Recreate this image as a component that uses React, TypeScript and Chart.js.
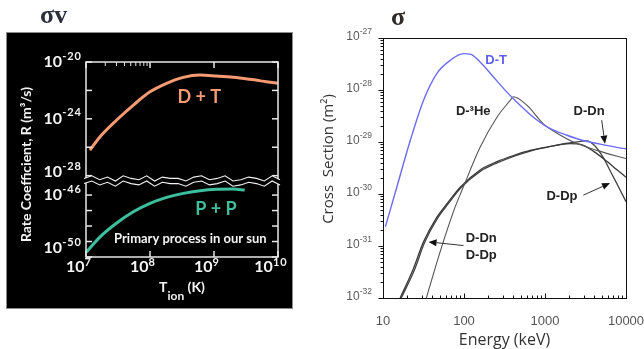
import React, { useEffect, useRef } from 'react';
import { Chart, registerables } from 'chart.js';

Chart.register(...registerables);

// ---------- σv : reaction rate coefficient vs ion temperature ----------
const dtTemperature = [1.15e7, 1.66e7, 3.02e7, 5.5e7, 1.0e8, 1.82e8, 3.31e8, 6.03e8, 1.1e9, 2.0e9, 3.63e9, 6.61e9, 1.0e10];
const dtRate = [6.3e-27, 5.5e-26, 8.3e-25, 9.3e-24, 7.9e-23, 3.16e-22, 8.3e-22, 1.2e-21, 1.02e-21, 8.3e-22, 6.0e-22, 4.1e-22, 3.16e-22];
const ppTemperature = [1.02e7, 1.66e7, 3.02e7, 5.5e7, 1.0e8, 1.82e8, 3.31e8, 6.03e8, 1.1e9, 2.0e9, 3.02e9];
const ppRate = [2.1e-50, 2.0e-49, 1.58e-48, 8.3e-48, 2.9e-47, 7.1e-47, 1.29e-46, 1.9e-46, 2.34e-46, 2.45e-46, 2.1e-46];

const temperatureDecades = [7, 8, 9, 10];
const rateUpperLabels = [-20, -24, -28];
const rateUpperTicks = [-20, -22, -24, -26, -28];
const rateLowerLabels = [-46, -50];
const rateLowerTicks = [-46, -47, -48, -49, -50];

// ---------- σ : cross sections vs deuteron energy ----------
const dtEnergy = [10.7, 14.8, 21.7, 31.6, 46.3, 67.6, 98.6, 119, 158, 231, 339, 447, 719, 1150, 1860, 2950, 4790, 7670, 10000];
const dtSigma = [2.34e-31, 1.35e-30, 1.07e-29, 6.3e-29, 2.09e-28, 3.72e-28, 5.0e-28, 4.9e-28, 3.47e-28, 1.78e-28, 9.1e-29, 5.9e-29, 3.0e-29, 1.82e-29, 1.35e-29, 1.07e-29, 9.1e-30, 7.9e-30, 7.4e-30];
const dhe3Energy = [34.3, 48.5, 61.7, 77.6, 94.2, 158, 255, 372, 407, 597, 955, 1550, 2240, 4370, 10000];
const dhe3Sigma = [1.0e-32, 6.2e-32, 2.0e-31, 5.6e-31, 1.17e-30, 7.9e-30, 3.0e-29, 6.3e-29, 7.4e-29, 5.1e-29, 2.24e-29, 1.35e-29, 1.0e-29, 6.9e-30, 4.8e-30];
const ddnEnergy = [16.3, 23.8, 31.6, 46.3, 63.1, 89.7, 158, 255, 407, 655, 1000, 1550, 2040, 2820, 3980, 5750, 7590, 10000];
const ddnSigma = [1.0e-32, 3.7e-32, 1.2e-31, 3.6e-31, 6.8e-31, 1.35e-30, 2.9e-30, 4.2e-30, 5.5e-30, 6.9e-30, 7.9e-30, 8.9e-30, 9.3e-30, 8.9e-30, 6.6e-30, 4.3e-30, 3.0e-30, 2.1e-30];
const ddpEnergy = [16.8, 24.5, 32.5, 47, 64, 91, 160, 260, 410, 660, 1000, 1550, 2240, 3270, 4170, 5250, 6610, 8130, 10000];
const ddpSigma = [1.0e-32, 3.5e-32, 1.15e-31, 3.4e-31, 6.5e-31, 1.3e-30, 2.75e-30, 4.0e-30, 5.3e-30, 6.7e-30, 7.8e-30, 9.0e-30, 9.8e-30, 1.05e-29, 8.3e-30, 5.0e-30, 2.5e-30, 1.35e-30, 7.1e-31];

const energyTicks = [10, 100, 1000, 10000];
const sigmaDecades = [-27, -28, -29, -30, -31, -32];

// curve labels placed in data coordinates
const sigmaLabels = [
  { text: 'D-T', e: 249, s: 3.7e-28, color: '#5f5ff0' },
  { text: 'D-³He', e: 130, s: 3.9e-29, color: '#222' },
  { text: 'D-Dn', e: 3500, s: 3.9e-29, color: '#222' },
  { text: 'D-Dp', e: 1620, s: 9.1e-31, color: '#222' },
  { text: 'D-Dn', e: 163, s: 1.41e-31, color: '#222' },
  { text: 'D-Dp', e: 163, s: 6.6e-32, color: '#222' },
];
const sigmaArrows = [
  { from: [5010, 2.63e-29], to: [5500, 9.3e-30] },
  { from: [2970, 9.5e-31], to: [6350, 1.62e-30] },
  { from: [98.6, 1.02e-31], to: [36.5, 1.2e-31] },
];

const zip = (xs: number[], ys: number[]) => xs.map((x, i) => ({ x, y: ys[i] }));

type PowerStyle = { base: string; sup: string; rise: number; color: string; align: 'right' | 'center'; supSpacing?: string };

function drawPower(ctx: CanvasRenderingContext2D, exp: string, x: number, y: number, o: PowerStyle) {
  ctx.save();
  ctx.fillStyle = o.color;
  ctx.textBaseline = 'middle';
  ctx.textAlign = 'left';
  ctx.font = o.base;
  (ctx as any).letterSpacing = '0px';
  const bw = ctx.measureText('10').width;
  ctx.font = o.sup;
  (ctx as any).letterSpacing = o.supSpacing ?? '0px';
  const sw = ctx.measureText(exp).width;
  const total = bw + sw;
  const x0 = o.align === 'right' ? x - total : x - total / 2;
  ctx.fillText(exp, x0 + bw, y - o.rise);
  (ctx as any).letterSpacing = '0px';
  ctx.font = o.base;
  ctx.fillText('10', x0, y);
  ctx.restore();
}

function line(ctx: CanvasRenderingContext2D, x1: number, y1: number, x2: number, y2: number) {
  ctx.beginPath();
  ctx.moveTo(x1, y1);
  ctx.lineTo(x2, y2);
  ctx.stroke();
}

const ratePanelPlugin = {
  id: 'ratePanel',
  beforeDraw(chart: any) {
    const { ctx } = chart;
    ctx.save();
    ctx.fillStyle = '#000';
    ctx.fillRect(6, 32, 287, 277);
    ctx.strokeStyle = '#8c8c8c';
    ctx.lineWidth = 1;
    ctx.strokeRect(6.5, 32.5, 286, 276);
    ctx.font = '700 26px "Liberation Serif"';
    ctx.fillStyle = '#2c2f3e';
    ctx.textBaseline = 'alphabetic';
    ctx.fillText('σv', 40, 23);
    ctx.restore();
  },
  afterDraw(chart: any) {
    const { ctx, chartArea: a } = chart;
    const xs = chart.scales.x;
    const yt = chart.scales.yTop;
    const yb = chart.scales.yBot;
    ctx.save();
    ctx.strokeStyle = '#e8e8e8';
    ctx.lineWidth = 1.5;
    ctx.strokeRect(a.left, a.top, a.right - a.left, a.bottom - a.top);

    for (const d of temperatureDecades) {
      const px = xs.getPixelForValue(10 ** d);
      line(ctx, px, a.bottom, px, a.bottom - 6);
      line(ctx, px, a.top, px, a.top + 6);
    }
    ctx.lineWidth = 1;
    for (let k = 2; k <= 9; k++) {
      const px = xs.getPixelForValue(k * 1e7);
      line(ctx, px, a.top, px, a.top + 4);
    }
    ctx.lineWidth = 1.5;
    for (const d of rateUpperTicks) {
      const py = yt.getPixelForValue(10 ** d);
      line(ctx, a.left, py, a.left + 6, py);
      line(ctx, a.right, py, a.right - 6, py);
    }
    for (const d of rateLowerTicks) {
      const py = yb.getPixelForValue(10 ** d);
      line(ctx, a.left, py, a.left + 6, py);
      line(ctx, a.right, py, a.right - 6, py);
    }

    // axis break between the two rate ranges
    const mid = yt.bottom;
    const zig = [0, -2, 1, -1, 2, -2, 0, 1, -2, 2, -1, 0, 0, 2, -1, -2, 1, 0, -2, 2, 1, -1, 0, 2, -2, 1];
    const x0 = a.left - 2;
    const x1 = a.right + 2;
    const n = zig.length - 1;
    const pts = zig.map((o, i) => [x0 + ((x1 - x0) * i) / n, mid + o * 1.3]);
    const gap = 2.6;
    ctx.fillStyle = '#000';
    ctx.beginPath();
    pts.forEach(([x, y], i) => (i ? ctx.lineTo(x, y - gap) : ctx.moveTo(x, y - gap)));
    [...pts].reverse().forEach(([x, y]) => ctx.lineTo(x, y + gap));
    ctx.closePath();
    ctx.fill();
    ctx.strokeStyle = '#f2f2f2';
    ctx.lineWidth = 1.1;
    for (const off of [-gap, gap]) {
      ctx.beginPath();
      pts.forEach(([x, y], i) => (i ? ctx.lineTo(x, y + off) : ctx.moveTo(x, y + off)));
      ctx.stroke();
    }

    // tick labels
    const yStyle: PowerStyle = { base: '700 16px Lato', sup: '700 11px Lato', rise: 6, color: '#f4f4f4', align: 'right', supSpacing: '1px' };
    for (const d of rateUpperLabels) {
      const py = Math.min(yt.getPixelForValue(10 ** d), yt.bottom - 9);
      drawPower(ctx, String(d), a.left - 4, py, yStyle);
    }
    for (const d of rateLowerLabels) {
      const py = Math.min(yb.getPixelForValue(10 ** d), yb.bottom - 9);
      drawPower(ctx, String(d), a.left - 4, py, yStyle);
    }
    const xStyle: PowerStyle = { ...yStyle, align: 'center', rise: 5 };
    for (const d of temperatureDecades) {
      drawPower(ctx, String(d), xs.getPixelForValue(10 ** d) - 7, a.bottom + 10, xStyle);
    }

    // axis titles
    ctx.fillStyle = '#f4f4f4';
    ctx.font = '700 14px Lato';
    ctx.textAlign = 'center';
    ctx.textBaseline = 'middle';
    ctx.save();
    ctx.translate(26, (a.top + a.bottom) / 2 + 5);
    ctx.rotate(-Math.PI / 2);
    ctx.fillText('Rate Coefficient, R (m³/s)', 0, 0);
    ctx.restore();

    ctx.textAlign = 'left';
    ctx.textBaseline = 'alphabetic';
    ctx.font = '700 14px Lato';
    const wT = ctx.measureText('T').width;
    const wK = ctx.measureText(' (K)').width;
    ctx.font = '700 12px Lato';
    const wIon = ctx.measureText('ion').width;
    let tx = (a.left + a.right) / 2 - (wT + wIon + wK) / 2;
    const tb = a.bottom + 35;
    ctx.font = '700 14px Lato';
    ctx.fillText('T', tx, tb);
    tx += wT;
    ctx.font = '700 12px Lato';
    ctx.fillText('ion', tx, tb + 8);
    tx += wIon;
    ctx.font = '700 14px Lato';
    ctx.fillText(' (K)', tx, tb);

    // curve labels
    ctx.textAlign = 'center';
    ctx.textBaseline = 'middle';
    ctx.font = '700 18px Lato';
    ctx.fillStyle = '#f59a72';
    ctx.fillText('D + T', xs.getPixelForValue(5.9e8), yt.getPixelForValue(3.47e-23));
    ctx.fillStyle = '#3dbf9e';
    ctx.fillText('P + P', xs.getPixelForValue(1.07e9), yb.getPixelForValue(1.26e-47));
    ctx.fillStyle = '#f4f4f4';
    ctx.font = '700 13px Lato';
    ctx.fillText('Primary process in our sun', xs.getPixelForValue(4.27e8), yb.getPixelForValue(1.41e-49));
    ctx.restore();
  },
};

const sigmaPanelPlugin = {
  id: 'sigmaPanel',
  beforeDraw(chart: any) {
    const { ctx } = chart;
    ctx.save();
    ctx.font = '700 26px "Liberation Serif"';
    ctx.fillStyle = '#302b27';
    ctx.textBaseline = 'alphabetic';
    ctx.fillText('σ', 91, 25);
    ctx.restore();
  },
  afterDraw(chart: any) {
    const { ctx, chartArea: a } = chart;
    const xs = chart.scales.x;
    const ys = chart.scales.y;
    ctx.save();
    ctx.strokeStyle = '#111';
    ctx.lineWidth = 1;
    ctx.strokeRect(Math.round(a.left) + 0.5, Math.round(a.top) + 0.5, Math.round(a.right - a.left), Math.round(a.bottom - a.top));

    const left = Math.round(a.left) + 0.5;
    const bottom = Math.round(a.bottom) + 0.5;
    for (const d of sigmaDecades) {
      const py = Math.round(ys.getPixelForValue(10 ** d)) + 0.5;
      line(ctx, left - 5, py, left, py);
      if (d > -32) {
        for (let k = 2; k <= 9; k++) {
          const my = Math.round(ys.getPixelForValue(k * 10 ** (d - 1))) + 0.5;
          line(ctx, left - 3, my, left, my);
        }
      }
    }
    for (const e of energyTicks) {
      const px = Math.round(xs.getPixelForValue(e)) + 0.5;
      line(ctx, px, bottom, px, bottom - 5);
      if (e < 10000) {
        for (let k = 2; k <= 9; k++) {
          const mx = Math.round(xs.getPixelForValue(k * e)) + 0.5;
          line(ctx, mx, bottom, mx, bottom - 3);
        }
      }
    }

    // tick labels
    const yStyle: PowerStyle = { base: '12px "Liberation Sans"', sup: '8.5px "Liberation Sans"', rise: 5, color: '#5a5a5a', align: 'right' };
    for (const d of sigmaDecades) {
      drawPower(ctx, String(d), a.left - 11, ys.getPixelForValue(10 ** d) - 1, yStyle);
    }
    ctx.fillStyle = '#555';
    ctx.font = '13px "Liberation Sans"';
    ctx.textAlign = 'center';
    ctx.textBaseline = 'middle';
    for (const e of energyTicks) {
      ctx.fillText(String(e), xs.getPixelForValue(e), a.bottom + 23);
    }

    // axis titles
    ctx.fillStyle = '#333';
    ctx.font = '15px "Open Sans"';
    ctx.save();
    ctx.translate(29, (a.top + a.bottom) / 2 - 9);
    ctx.rotate(-Math.PI / 2);
    ctx.fillText('Cross  Section (m²)', 0, 0);
    ctx.restore();
    ctx.font = '16px "Open Sans"';
    ctx.textBaseline = 'alphabetic';
    ctx.fillText('Energy (keV)', (a.left + a.right) / 2 - 0, a.bottom + 47);

    // curve labels
    ctx.textBaseline = 'middle';
    ctx.font = '700 13px "Liberation Sans"';
    for (const l of sigmaLabels) {
      ctx.fillStyle = l.color;
      ctx.fillText(l.text, xs.getPixelForValue(l.e), ys.getPixelForValue(l.s));
    }

    // arrows
    ctx.strokeStyle = '#333';
    ctx.fillStyle = '#111';
    ctx.lineWidth = 1;
    for (const ar of sigmaArrows) {
      const fx = xs.getPixelForValue(ar.from[0]);
      const fy = ys.getPixelForValue(ar.from[1]);
      const tx = xs.getPixelForValue(ar.to[0]);
      const ty = ys.getPixelForValue(ar.to[1]);
      const ang = Math.atan2(ty - fy, tx - fx);
      const hl = 8;
      const hw = 3.5;
      const bx = tx - hl * Math.cos(ang);
      const by = ty - hl * Math.sin(ang);
      line(ctx, fx, fy, bx, by);
      ctx.beginPath();
      ctx.moveTo(tx, ty);
      ctx.lineTo(bx + hw * Math.sin(ang), by - hw * Math.cos(ang));
      ctx.lineTo(bx - hw * Math.sin(ang), by + hw * Math.cos(ang));
      ctx.closePath();
      ctx.fill();
    }
    ctx.restore();
  },
};

function RatePanel() {
  const ref = useRef<HTMLCanvasElement>(null);
  useEffect(() => {
    if (!ref.current) return;
    const chart = new Chart(ref.current, {
      type: 'line',
      data: {
        datasets: [
          { label: 'D + T', data: zip(dtTemperature, dtRate), yAxisID: 'yTop', borderColor: '#f59a72', borderWidth: 3, cubicInterpolationMode: 'monotone' },
          { label: 'P + P', data: zip(ppTemperature, ppRate), yAxisID: 'yBot', borderColor: '#3dbf9e', borderWidth: 3, cubicInterpolationMode: 'monotone' },
        ],
      },
      options: {
        responsive: false,
        animation: false,
        devicePixelRatio: 1,
        layout: { padding: { left: 86, right: 22, top: 62, bottom: 92 } },
        elements: { point: { radius: 0 } },
        plugins: { legend: { display: false }, tooltip: { enabled: false } },
        scales: {
          x: { type: 'logarithmic', min: 1e7, max: 1e10, display: false },
          yBot: { type: 'logarithmic', min: 1e-50, max: 8.1e-46, position: 'left', stack: 'rate', stackWeight: 76, display: false },
          yTop: { type: 'logarithmic', min: 4.2e-29, max: 1e-20, position: 'left', stack: 'rate', stackWeight: 119, display: false },
        },
      } as any,
      plugins: [ratePanelPlugin],
    });
    return () => chart.destroy();
  }, []);
  return <canvas ref={ref} width={300} height={349} style={{ position: 'absolute', left: 0, top: 0, width: 300, height: 349 }} />;
}

function CrossSectionPanel() {
  const ref = useRef<HTMLCanvasElement>(null);
  useEffect(() => {
    if (!ref.current) return;
    const chart = new Chart(ref.current, {
      type: 'line',
      data: {
        datasets: [
          { label: 'D-T', data: zip(dtEnergy, dtSigma), borderColor: '#6b6bf5', borderWidth: 1.4, cubicInterpolationMode: 'monotone' },
          { label: 'D-3He', data: zip(dhe3Energy, dhe3Sigma), borderColor: '#555', borderWidth: 1.1, cubicInterpolationMode: 'monotone' },
          { label: 'D-Dn', data: zip(ddnEnergy, ddnSigma), borderColor: '#3a3a3a', borderWidth: 1.3, cubicInterpolationMode: 'monotone' },
          { label: 'D-Dp', data: zip(ddpEnergy, ddpSigma), borderColor: '#444', borderWidth: 1.3, cubicInterpolationMode: 'monotone' },
        ],
      },
      options: {
        responsive: false,
        animation: false,
        devicePixelRatio: 1,
        layout: { padding: { left: 83, right: 18, top: 38, bottom: 51 } },
        elements: { point: { radius: 0 } },
        plugins: { legend: { display: false }, tooltip: { enabled: false } },
        scales: {
          x: { type: 'logarithmic', min: 10, max: 10000, display: false },
          y: { type: 'logarithmic', min: 1e-32, max: 1e-27, display: false },
        },
      } as any,
      plugins: [sigmaPanelPlugin],
    });
    return () => chart.destroy();
  }, []);
  return <canvas ref={ref} width={344} height={349} style={{ position: 'absolute', left: 300, top: 0, width: 344, height: 349 }} />;
}

export default function App() {
  return (
    <div style={{ position: 'absolute', left: 0, top: 0, width: 644, height: 349, background: '#fff', overflow: 'hidden' }}>
      <RatePanel />
      <CrossSectionPanel />
    </div>
  );
}
